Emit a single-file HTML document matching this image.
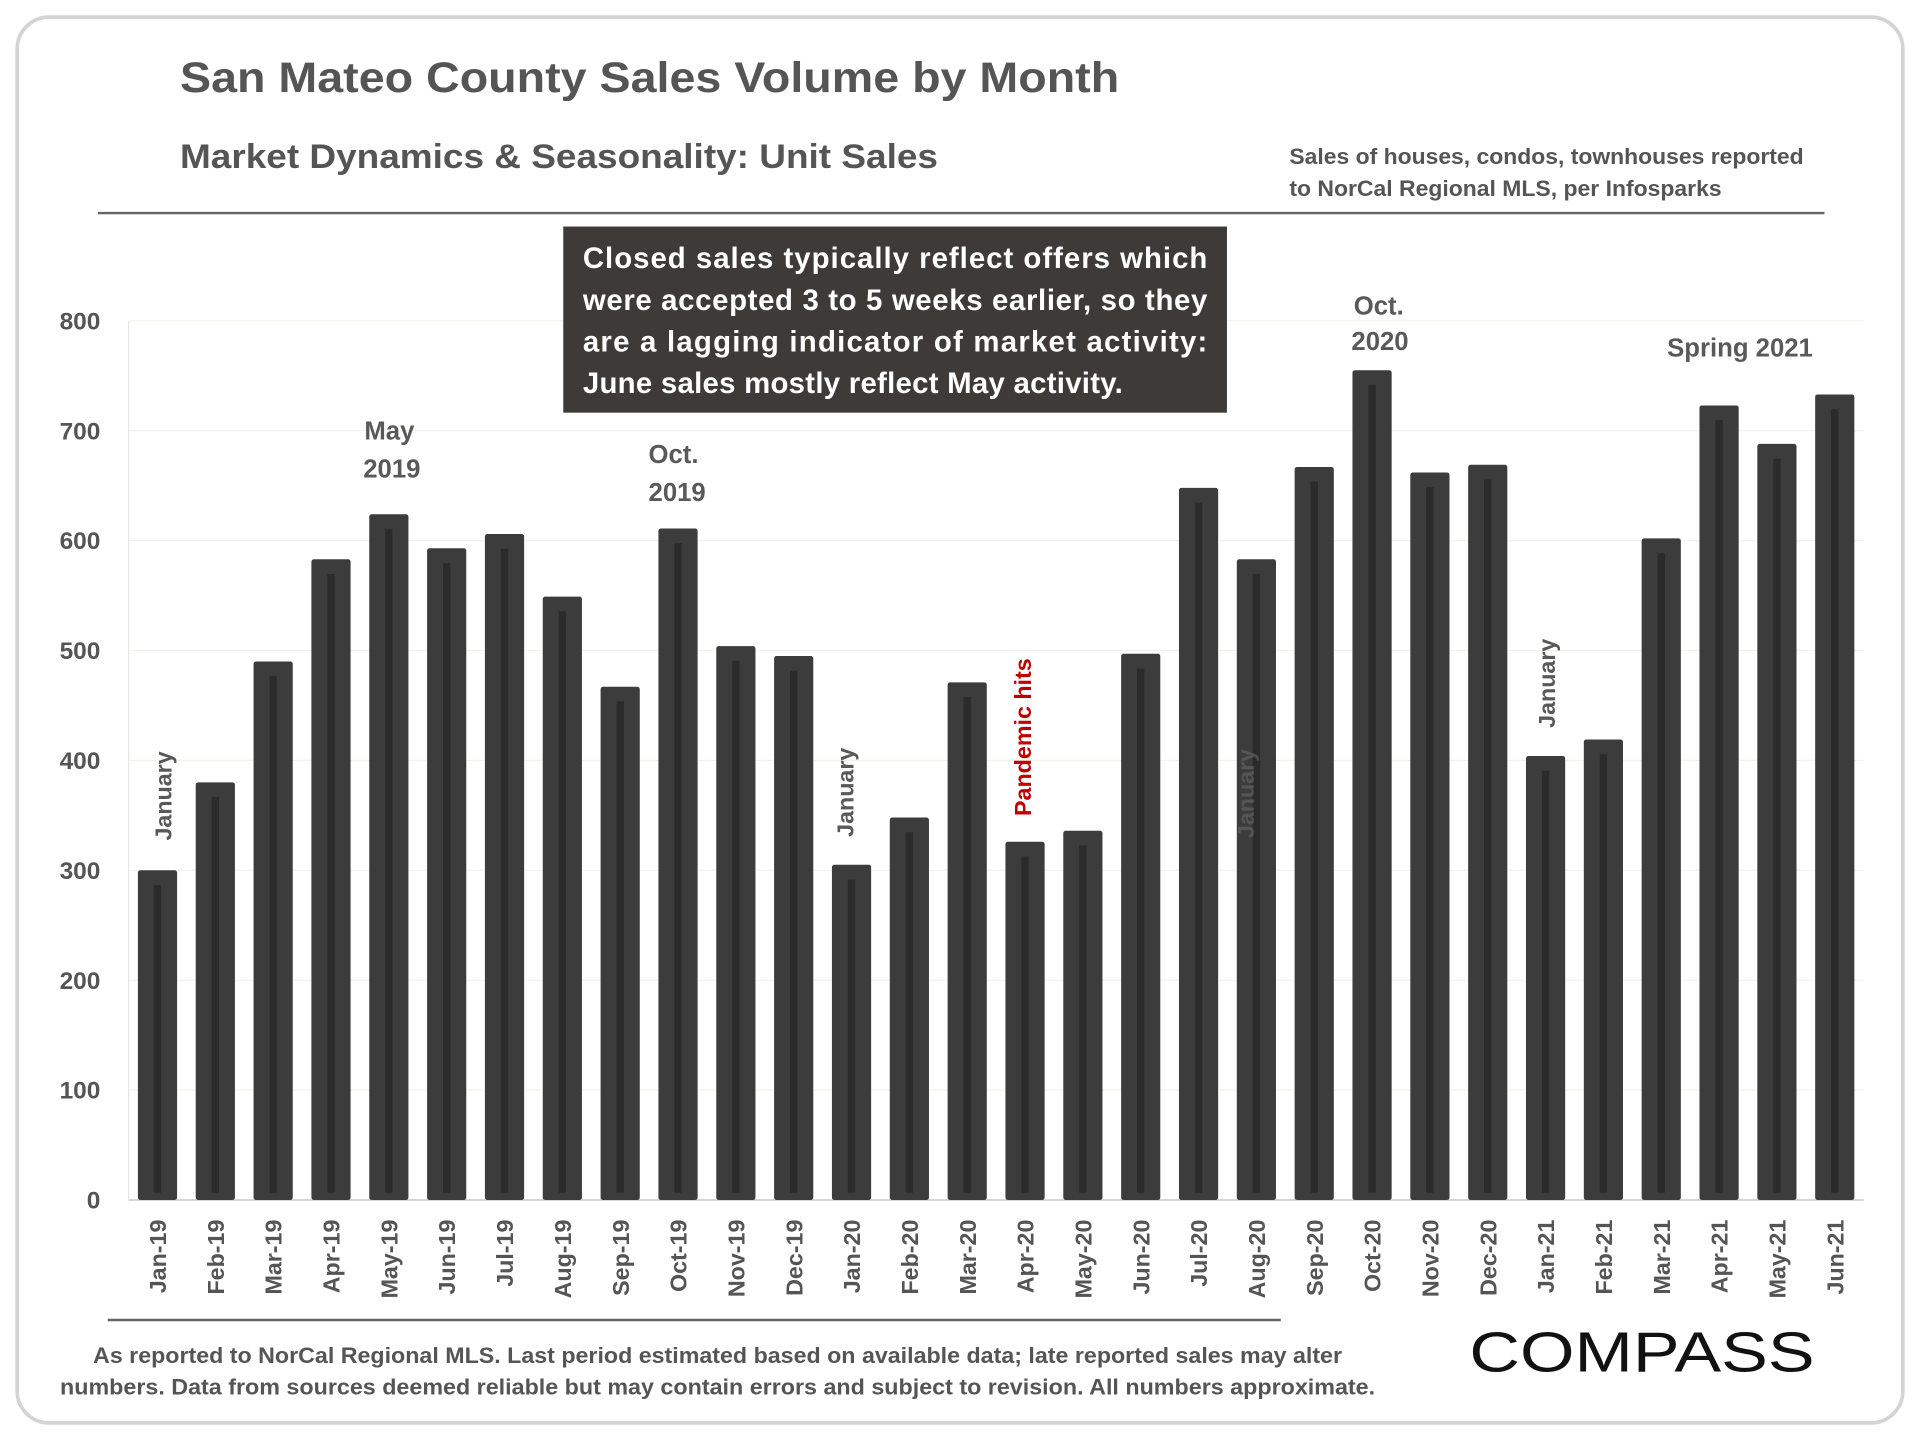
<!DOCTYPE html>
<html><head><meta charset="utf-8"><style>
html,body{margin:0;padding:0;background:#fff;width:1920px;height:1440px;overflow:hidden}
svg{display:block}
text{font-family:"Liberation Sans",sans-serif}
</style></head><body>
<svg id="chart" width="1920" height="1440" viewBox="0 0 1568 1176" xmlns="http://www.w3.org/2000/svg">
<rect x="14" y="14" width="1540" height="1148" rx="26" fill="#fff" stroke="#d4d4d4" stroke-width="3"/>
<text x="147" y="75" font-size="35" font-weight="bold" fill="#555" textLength="767" lengthAdjust="spacingAndGlyphs">San Mateo County Sales Volume by Month</text>
<text x="147" y="137" font-size="28" font-weight="bold" fill="#555" textLength="619" lengthAdjust="spacingAndGlyphs">Market Dynamics &amp; Seasonality: Unit Sales</text>
<text x="1053" y="134" font-size="18" font-weight="bold" fill="#555" textLength="420" lengthAdjust="spacingAndGlyphs">Sales of houses, condos, townhouses reported</text>
<text x="1053" y="160" font-size="18" font-weight="bold" fill="#555" textLength="353" lengthAdjust="spacingAndGlyphs">to NorCal Regional MLS, per Infosparks</text>
<line x1="80" y1="174" x2="1490" y2="174" stroke="#666" stroke-width="2"/>
<g id="grid"></g>
<g id="bars"></g>
<g id="ylabels"></g>
<g id="xlabels"></g>
<rect x="460" y="185" width="542" height="152" fill="#3d3a38"/>
<g font-size="24" font-weight="bold" fill="#fff">
<text x="476" y="219" textLength="510" lengthAdjust="spacing">Closed sales typically reflect offers which</text>
<text x="476" y="253" textLength="510" lengthAdjust="spacing">were accepted 3 to 5 weeks earlier, so they</text>
<text x="476" y="287" textLength="510" lengthAdjust="spacing">are a lagging indicator of market activity:</text>
<text x="476" y="321" textLength="441" lengthAdjust="spacing">June sales mostly reflect May activity.</text>
</g>
<g font-size="21" font-weight="bold" fill="#595959" text-anchor="middle">
<text x="318" y="359">May</text>
<text x="320" y="390">2019</text>
<text x="550" y="378">Oct.</text>
<text x="553" y="409">2019</text>
<text x="1126" y="257">Oct.</text>
<text x="1127" y="286">2020</text>
<text x="1421" y="291">Spring 2021</text>
</g>
<g font-size="19" font-weight="bold" fill="#595959" text-anchor="middle">
<text transform="translate(140,650) rotate(-90)">January</text>
<text transform="translate(697,647) rotate(-90)">January</text>
<text transform="translate(1024,648) rotate(-90)" fill="#666" opacity="0.6">January</text>
<text transform="translate(1270,558) rotate(-90)">January</text>
<text transform="translate(842,602) rotate(-90)" fill="#c00000">Pandemic hits</text>
</g>
<line x1="88" y1="1078" x2="1046" y2="1078" stroke="#666" stroke-width="2"/>
<g font-size="18" font-weight="bold" fill="#555" text-anchor="middle">
<text x="586" y="1113" textLength="1020" lengthAdjust="spacingAndGlyphs">As reported to NorCal Regional MLS. Last period estimated based on available data; late reported sales may alter</text>
<text x="586" y="1139" textLength="1074" lengthAdjust="spacingAndGlyphs">numbers. Data from sources deemed reliable but may contain errors and subject to revision. All numbers approximate.</text>
</g>
<text x="1341" y="1120" font-size="46" fill="#111" text-anchor="middle" textLength="282" lengthAdjust="spacingAndGlyphs">COMPASS</text>
</svg>
<script>
const categories=["Jan-19","Feb-19","Mar-19","Apr-19","May-19","Jun-19","Jul-19","Aug-19","Sep-19","Oct-19","Nov-19","Dec-19","Jan-20","Feb-20","Mar-20","Apr-20","May-20","Jun-20","Jul-20","Aug-20","Sep-20","Oct-20","Nov-20","Dec-20","Jan-21","Feb-21","Mar-21","Apr-21","May-21","Jun-21"];
const sales=[300,380,490,583,624,593,606,549,467,611,504,495,305,348,471,326,336,497,648,583,667,755,662,669,404,419,602,723,688,733];
const yTicks=[0,100,200,300,400,500,600,700,800];
const NS="http://www.w3.org/2000/svg";
const plotL=105,plotR=1522,y0=980,y800=262;
const slot=(plotR-plotL)/categories.length;
function x(i){return plotL+slot*(i+0.5);}
function y(v){return y0-(y0-y800)*v/800;}
function mk(t,a){const e=document.createElementNS(NS,t);for(const k in a)e.setAttribute(k,a[k]);return e;}
const grid=document.getElementById('grid'),bars=document.getElementById('bars'),yl=document.getElementById('ylabels'),xl=document.getElementById('xlabels');
yTicks.forEach(v=>{
  if(v>0){const g=mk('line',{x1:plotL,x2:plotR,y1:y(v),y2:y(v),stroke:'#f2f4ea','stroke-width':1});
  
  
  grid.appendChild(g);}
  const t=mk('text',{x:82,y:y(v)+7,'font-size':20,'font-weight':'bold',fill:'#555','text-anchor':'end'});
  t.textContent=v;
  
  
  yl.appendChild(t);
});
const ax=mk('line',{x1:plotL,x2:plotR,y1:y0,y2:y0,stroke:'#cfcfcf','stroke-width':1.5});


grid.appendChild(ax);
const ayl=mk('line',{x1:plotL,x2:plotL,y1:y800,y2:y0,stroke:'#e6e6e6','stroke-width':1});


grid.appendChild(ayl);
const bw=32;
sales.forEach((v,i)=>{
  const b=mk('rect',{x:x(i)-bw/2,y:y(v),width:bw,height:y0-y(v),fill:'#3c3c3c',rx:2});
  
  
  bars.appendChild(b);
  const s=mk('rect',{x:x(i)-3,y:y(v)+12,width:6,height:y0-y(v)-18,fill:'#2b2b2b'});
  
  
  bars.appendChild(s);
  const t=mk('text',{transform:'translate('+(x(i)+7)+',996) rotate(-90)','font-size':19,'font-weight':'bold',fill:'#555','text-anchor':'end'});
  t.textContent=categories[i];
  
  
  xl.appendChild(t);
});
</script>
</body></html>
